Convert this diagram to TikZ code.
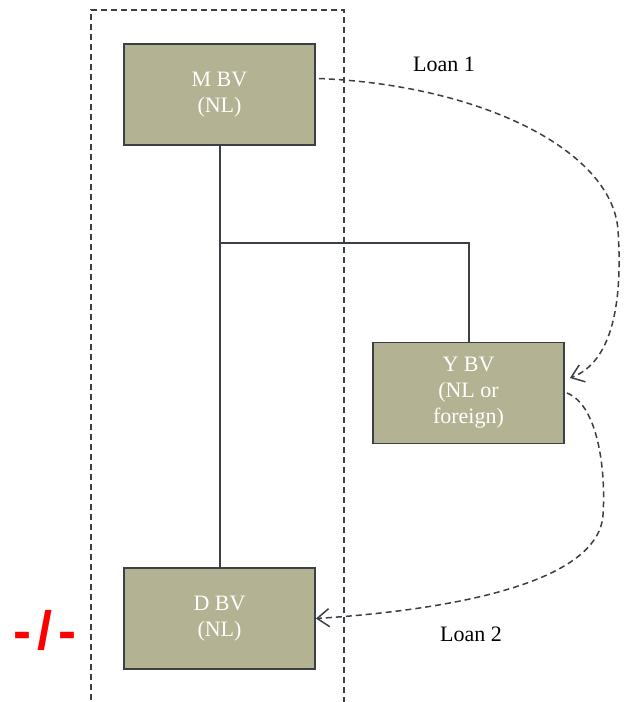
\documentclass[tikz,border=0pt]{standalone}
\usepackage{fontspec}
\setmainfont{Liberation Serif}
\newfontfamily\redsans{Liberation Sans}
\usetikzlibrary{arrows.meta,calc}
\definecolor{boxfill}{HTML}{B3B394}
\definecolor{boxline}{HTML}{3A4045}
\definecolor{dashline}{HTML}{3A3F44}
\tikzset{
  entity/.style={draw=boxline, line width=1.8pt, fill=boxfill, minimum width=191pt, minimum height=101pt, inner sep=0pt, align=center, text=white, font=\fontsize{22}{26}\selectfont},
  tree/.style={draw=boxline, line width=2pt},
  loan/.style={draw=dashline, line width=1.5pt, dash pattern=on 6pt off 4pt, -{Straight Barb[length=12pt,width=18pt,line width=1.5pt]}},
  lbl/.style={font=\fontsize{22}{24}\selectfont, text=black},
  frame/.style={draw=dashline, line width=1.4pt, dash pattern=on 6pt off 4pt}
}
\begin{document}
\begin{tikzpicture}[x=1pt,y=-1pt]
\useasboundingbox (0,0) rectangle (624,702);
\draw[frame] (91,710) -- (91,10) -- (344,10) -- (344,710);
\node[entity] (M) at (219.5,94.5) {M BV\\(NL)};
\node[entity] (Y) at (468.5,393) {Y BV\\(NL or\\foreign)};
\node[entity] (D) at (219.5,618.5) {D BV\\(NL)};
\coordinate (J) at (219.5,243);
\draw[tree] (M.south) -- (D.north);
\draw[tree] (J) -| (Y.north);
\coordinate (L1s) at ($(M.east)+(3,-16)$);
\coordinate (L1e) at ($(Y.east)+(5,-15)$);
\coordinate (L2s) at ($(Y.east)+(2,0)$);
\draw[loan] (L1s) .. controls (480,85) and (612,150) .. (618,230) .. controls (624,320) and (605,365) .. (L1e);
\draw[loan] (L2s) .. controls (598,405) and (606,470) .. (603,515) .. controls (598,590) and (420,612) .. (D.east);
\node[lbl] (l1) at (444,64) {Loan 1};
\node[lbl] (l2) at (471,634) {Loan 2};
\node[text=red, font=\redsans\bfseries\fontsize{54}{54}\selectfont] (x) at (45,630) {-\kern6pt/\kern6pt-};
\end{tikzpicture}
\end{document}
